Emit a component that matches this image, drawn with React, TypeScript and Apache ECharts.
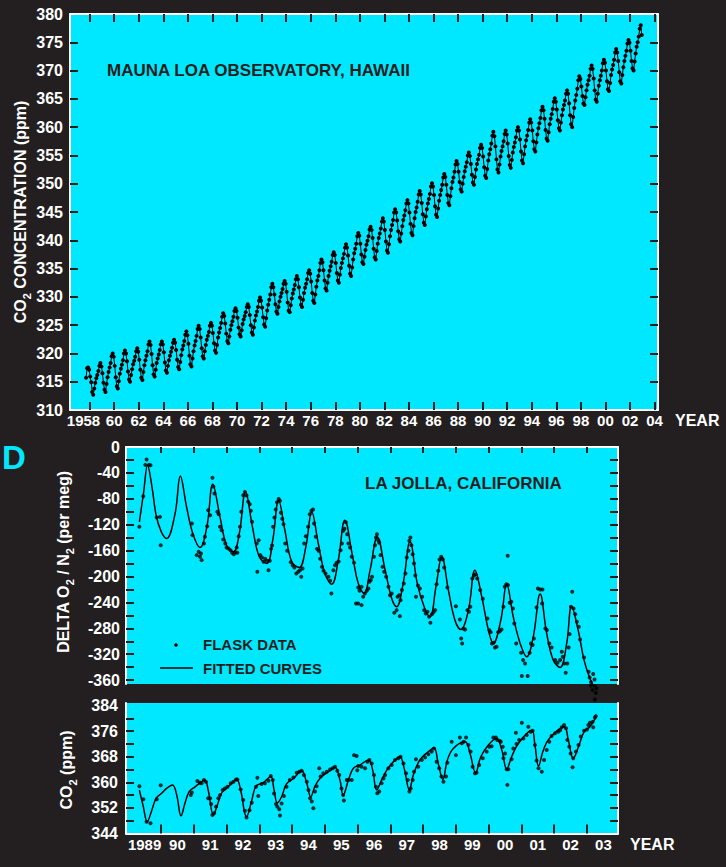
import React, { useEffect, useRef } from 'react';
import * as echarts from 'echarts';

const BG = '#231F20';
const CYAN = '#00E8FF';
const INK = '#231F20';
const FONT = '"Liberation Sans", Arial, Helvetica, sans-serif';

// ---- Mauna Loa monthly CO2 (ppm), starting March 1958 ----
const mloStartYear = 1958;
const mloStartMonth = 3;
const mloCo2 = [
  315.7, 317.4, 317.5, 317.1, 315.9, 314.9, 313.2, 312.7, 313.8, 314.8,
  315.6, 316.2, 316.9, 317.8, 318.3, 317.7, 316.5, 314.8, 313.6, 313.2, 314.6, 315.8,
  316.7, 317.5, 318.3, 319.5, 320.0, 319.4, 317.8, 315.8, 314.2, 313.8, 315.1, 316.4,
  317.3, 318.0, 318.8, 320.0, 320.5, 320.0, 318.6, 316.8, 315.4, 315.0, 316.2, 317.2,
  318.1, 318.7, 319.4, 320.4, 320.9, 320.3, 318.9, 317.1, 315.7, 315.3, 316.7, 317.9,
  318.8, 319.6, 320.4, 321.6, 322.1, 321.5, 319.9, 317.9, 316.3, 315.9, 317.1, 318.3,
  319.1, 319.8, 320.6, 321.6, 322.1, 321.6, 320.2, 318.4, 317.0, 316.6, 317.8, 318.8,
  319.6, 320.3, 321.0, 321.9, 322.4, 321.9, 320.6, 318.9, 317.6, 317.2, 318.5, 319.7,
  320.7, 321.4, 322.2, 323.3, 323.9, 323.2, 321.7, 319.6, 318.1, 317.7, 319.1, 320.4,
  321.4, 322.2, 323.1, 324.3, 324.9, 324.3, 322.8, 320.9, 319.5, 319.1, 320.4, 321.5,
  322.4, 323.1, 323.8, 324.9, 325.4, 324.9, 323.6, 321.8, 320.5, 320.1, 321.5, 322.8,
  323.7, 324.5, 325.4, 326.5, 327.1, 326.6, 325.3, 323.5, 322.2, 321.8, 323.0, 324.2,
  325.0, 325.7, 326.5, 327.5, 328.0, 327.5, 326.3, 324.6, 323.4, 323.0, 324.1, 325.2,
  326.0, 326.6, 327.3, 328.2, 328.7, 328.2, 326.8, 325.0, 323.7, 323.3, 324.6, 325.8,
  326.7, 327.4, 328.2, 329.3, 329.9, 329.3, 328.1, 326.4, 325.1, 324.7, 326.2, 327.6,
  328.6, 329.5, 330.4, 331.7, 332.3, 331.7, 330.4, 328.7, 327.4, 327.0, 328.2, 329.2,
  330.0, 330.7, 331.4, 332.3, 332.8, 332.3, 330.9, 329.0, 327.6, 327.3, 328.5, 329.7,
  330.6, 331.3, 332.1, 333.1, 333.7, 333.1, 331.7, 329.9, 328.6, 328.2, 329.5, 330.7,
  331.6, 332.3, 333.1, 334.2, 334.7, 334.1, 332.7, 330.7, 329.3, 328.9, 330.4, 331.8,
  332.9, 333.7, 334.7, 336.0, 336.6, 336.1, 334.7, 332.9, 331.5, 331.1, 332.5, 333.7,
  334.6, 335.4, 336.2, 337.4, 337.9, 337.4, 336.0, 334.2, 332.9, 332.5, 333.9, 335.1,
  336.0, 336.8, 337.6, 338.7, 339.3, 338.7, 337.3, 335.5, 334.1, 333.7, 335.2, 336.6,
  337.7, 338.5, 339.4, 340.7, 341.3, 340.8, 339.4, 337.5, 336.1, 335.8, 337.1, 338.3,
  339.2, 339.9, 340.7, 341.9, 342.4, 341.8, 340.4, 338.5, 337.0, 336.6, 338.1, 339.4,
  340.4, 341.2, 342.1, 343.3, 343.9, 343.3, 341.8, 339.8, 338.2, 337.8, 339.3, 340.7,
  341.8, 342.7, 343.6, 344.9, 345.5, 344.9, 343.5, 341.6, 340.2, 339.8, 341.2, 342.5,
  343.6, 344.4, 345.3, 346.5, 347.1, 346.5, 344.9, 342.9, 341.3, 340.9, 342.5, 343.9,
  345.0, 345.8, 346.8, 348.1, 348.7, 348.1, 346.6, 344.6, 343.1, 342.7, 344.2, 345.5,
  346.5, 347.3, 348.2, 349.5, 350.1, 349.5, 348.0, 346.0, 344.5, 344.1, 345.6, 347.0,
  348.0, 348.9, 349.8, 351.1, 351.7, 351.2, 349.8, 348.0, 346.6, 346.2, 347.8, 349.2,
  350.3, 351.1, 352.1, 353.4, 354.0, 353.5, 352.1, 350.3, 349.0, 348.6, 350.0, 351.2,
  352.2, 353.0, 353.8, 355.0, 355.5, 354.9, 353.5, 351.6, 350.2, 349.8, 351.2, 352.5,
  353.5, 354.3, 355.1, 356.3, 356.9, 356.3, 354.8, 352.9, 351.4, 351.0, 352.6, 354.1,
  355.2, 356.1, 357.1, 358.5, 359.2, 358.4, 356.6, 354.3, 352.5, 352.0, 353.4, 354.8,
  355.8, 356.6, 357.5, 358.8, 359.4, 358.7, 357.1, 354.9, 353.3, 352.8, 354.2, 355.5,
  356.5, 357.3, 358.2, 359.4, 360.0, 359.4, 357.8, 355.7, 354.1, 353.6, 355.2, 356.6,
  357.7, 358.5, 359.5, 360.8, 361.4, 360.8, 359.4, 357.5, 356.1, 355.7, 357.3, 358.7,
  359.8, 360.7, 361.6, 363.0, 363.6, 363.0, 361.5, 359.5, 358.0, 357.6, 359.1, 360.5,
  361.5, 362.3, 363.2, 364.5, 365.1, 364.5, 363.1, 361.2, 359.8, 359.4, 360.8, 362.1,
  363.1, 363.9, 364.7, 365.9, 366.5, 365.9, 364.2, 362.1, 360.5, 360.0, 361.8, 363.4,
  364.7, 365.7, 366.8, 368.3, 369.0, 368.5, 367.2, 365.5, 364.2, 363.9, 365.3, 366.5,
  367.5, 368.3, 369.1, 370.3, 370.9, 370.3, 368.6, 366.5, 364.9, 364.5, 365.9, 367.3,
  368.3, 369.1, 370.0, 371.3, 371.9, 371.4, 370.0, 368.1, 366.7, 366.4, 367.8, 369.2,
  370.2, 371.0, 371.9, 373.2, 373.8, 373.2, 371.7, 369.7, 368.1, 367.7, 369.2, 370.6,
  371.7, 372.6, 373.5, 374.8, 375.4, 374.9, 373.5, 371.7, 370.4, 370.0, 371.6, 373.0,
  374.2, 375.0, 376.0, 377.4, 378.0, 376.3,
];

const mloTickYears = [1958, 1960, 1962, 1964, 1966, 1968, 1970, 1972, 1974, 1976, 1978, 1980,
  1982, 1984, 1986, 1988, 1990, 1992, 1994, 1996, 1998, 2000, 2002, 2004];
const mloTickLabels = ['1958', '60', '62', '64', '66', '68', '70', '72', '74', '76', '78', '80',
  '82', '84', '86', '88', '90', '92', '94', '96', '98', '00', '02', '04'];
const mloYTicks = [315, 320, 325, 330, 335, 340, 345, 350, 355, 360, 365, 370, 375];
const mloYLabels = [310, 315, 320, 325, 330, 335, 340, 345, 350, 355, 360, 365, 370, 375, 380];

// ---- La Jolla O2/N2 (per meg) ----
const o2Fit = [
  [1989.34, -115.6], [1989.47, -70], [1989.59, -28.1], [1989.72, -60], [1989.85, -105], [1990.0, -130],
  [1990.17, -141.3], [1990.43, -102.7], [1990.59, -44.6], [1990.78, -92.4], [1990.97, -133.5],
  [1991.19, -155.2], [1991.4, -123.3], [1991.58, -57.4], [1991.8, -107.9], [1992.0, -151.6],
  [1992.21, -161.9], [1992.39, -133.5], [1992.58, -69.3], [1992.79, -123.3], [1993.0, -169.6],
  [1993.23, -179.8], [1993.41, -143.9], [1993.59, -82.1], [1993.78, -128.4], [1993.99, -177.4],
  [1994.22, -186], [1994.42, -154.2], [1994.6, -100.2], [1994.8, -149], [1995.0, -195.3],
  [1995.21, -211.8], [1995.41, -174.7], [1995.61, -113], [1995.85, -169.6], [1996.02, -210.7],
  [1996.2, -226], [1996.38, -190.2], [1996.6, -138.8], [1996.84, -190], [1997.04, -233.9],
  [1997.19, -246.8], [1997.39, -210.7], [1997.6, -146.5], [1997.82, -210.7], [1998.03, -246.8],
  [1998.21, -262.3], [1998.39, -216], [1998.57, -169.6], [1998.77, -221], [1998.97, -267.4],
  [1999.15, -281.7], [1999.38, -252], [1999.58, -190.2], [1999.79, -231.4], [1999.99, -282.8],
  [2000.14, -303.3], [2000.37, -267.4], [2000.55, -211.8], [2000.75, -262.3], [2000.96, -303.3],
  [2001.16, -324], [2001.36, -293.1], [2001.57, -227.2], [2001.77, -287.9], [2001.97, -329.1],
  [2002.18, -340.4], [2002.38, -303.3], [2002.53, -245.8], [2002.73, -282.8], [2002.91, -329.1],
  [2003.09, -357.4], [2003.24, -372.8],
];
const o2Flask = [
  [1989.34, -123.3], [1989.46, -76.0], [1989.56, -19.3], [1989.52, -27.6], [1989.63, -27.6], [1989.68, -28.1], [1989.87, -109.0], [1989.97, -107.9], [1989.99, -151.6],
  [1990.94, -118.2], [1990.96, -136.1], [1991.09, -167.0], [1991.15, -161.9], [1991.19, -169.6], [1991.24, -174.7], [1991.22, -164.5], [1991.31, -149.0], [1991.34, -138.7], [1991.41, -122.3], [1991.44, -97.6], [1991.50, -105.3], [1991.57, -47.6], [1991.60, -61.5], [1991.63, -71.8], [1991.72, -100.1], [1991.76, -103.7], [1991.80, -123.3], [1991.85, -128.4], [1991.90, -142.9], [1991.96, -149.0],
  [1992.00, -155.2], [1992.06, -156.8], [1992.12, -159.3], [1992.17, -163.4], [1992.22, -165.5], [1992.27, -162.4], [1992.31, -155.2], [1992.33, -163.4], [1992.37, -137.7], [1992.41, -123.3], [1992.45, -100.1], [1992.51, -74.4], [1992.56, -69.3], [1992.61, -74.9], [1992.66, -84.7], [1992.71, -88.3], [1992.74, -98.6], [1992.78, -115.6], [1992.92, -149.0], [1992.94, -192.8], [1992.98, -143.9],
  [1993.03, -167.0], [1993.08, -170.6], [1993.13, -177.3], [1993.18, -172.7], [1993.23, -175.8], [1993.28, -190.2], [1993.32, -175.8], [1993.36, -157.3], [1993.39, -152.1], [1993.42, -123.3], [1993.46, -108.9], [1993.50, -96.5], [1993.54, -85.2], [1993.59, -80.1], [1993.63, -83.1], [1993.66, -101.7], [1993.70, -110.9], [1993.74, -119.2], [1993.79, -149.0], [1993.85, -160.3], [1993.96, -177.8],
  [1994.02, -182.5], [1994.07, -186.1], [1994.13, -195.3], [1994.19, -192.8], [1994.24, -190.2], [1994.28, -200.5], [1994.32, -187.6], [1994.37, -149.0], [1994.42, -137.7], [1994.49, -123.3], [1994.54, -103.7], [1994.59, -98.6], [1994.64, -96.5], [1994.67, -118.2], [1994.72, -138.7], [1994.76, -157.3], [1994.81, -160.3], [1994.86, -172.7], [1994.91, -185.1], [1994.96, -191.2],
  [1995.02, -195.3], [1995.11, -200.5], [1995.16, -206.6], [1995.20, -226.2], [1995.26, -190.2], [1995.31, -182.5], [1995.36, -178.9], [1995.42, -176.8], [1995.48, -159.3], [1995.52, -149.0], [1995.56, -129.5], [1995.60, -126.4], [1995.64, -116.1], [1995.68, -134.6], [1995.72, -149.0], [1995.77, -155.2], [1995.82, -169.6], [1995.89, -178.9], [1995.95, -241.6],
  [1996.02, -241.6], [1996.02, -216.9], [1996.06, -222.1], [1996.12, -215.9], [1996.12, -244.2], [1996.17, -231.3], [1996.22, -226.2], [1996.28, -222.1], [1996.33, -218.5], [1996.36, -208.2], [1996.40, -205.6], [1996.44, -200.5], [1996.50, -169.6], [1996.53, -151.6], [1996.56, -139.8], [1996.59, -134.6], [1996.63, -143.9], [1996.66, -148.0], [1996.70, -167.0], [1996.76, -185.1], [1996.81, -192.8], [1996.87, -200.5], [1996.94, -215.9], [1996.99, -228.8],
  [1997.04, -226.2], [1997.12, -256.1], [1997.19, -251.9], [1997.22, -231.3], [1997.27, -228.8], [1997.31, -236.5], [1997.29, -261.2], [1997.35, -221.0], [1997.41, -210.8], [1997.46, -195.3], [1997.50, -170.6], [1997.55, -160.3], [1997.58, -144.9], [1997.61, -139.8], [1997.64, -151.6], [1997.68, -165.5], [1997.72, -179.9], [1997.76, -198.4], [1997.78, -231.3], [1997.84, -213.9], [1997.90, -218.5], [1997.97, -231.3],
  [1998.03, -251.9], [1998.08, -257.0], [1998.13, -254.5], [1998.18, -262.2], [1998.22, -271.5], [1998.27, -258.1], [1998.32, -255.0], [1998.37, -251.9], [1998.41, -211.8], [1998.46, -191.2], [1998.50, -173.7], [1998.55, -169.6], [1998.60, -173.7], [1998.64, -186.1], [1998.74, -216.9],
  [1999.00, -245.8], [1999.12, -266.3], [1999.16, -295.7], [1999.19, -303.4], [1999.23, -280.8], [1999.28, -281.8], [1999.35, -251.9], [1999.40, -254.5], [1999.44, -246.8], [1999.50, -203.1], [1999.55, -198.4], [1999.60, -196.4], [1999.65, -203.1], [1999.74, -221.0], [1999.82, -234.4], [1999.96, -264.8],
  [2000.02, -282.8], [2000.06, -285.9], [2000.10, -303.4], [2000.15, -302.3], [2000.19, -309.6], [2000.24, -308.5], [2000.29, -285.9], [2000.34, -284.4], [2000.39, -281.8], [2000.45, -246.8], [2000.49, -215.9], [2000.54, -211.8], [2000.59, -213.3], [2000.58, -168.1], [2000.64, -240.6], [2000.69, -239.1], [2000.74, -249.4], [2000.78, -272.5], [2000.84, -303.4], [2000.99, -317.8],
  [2001.05, -329.1], [2001.11, -334.3], [2001.01, -353.8], [2001.19, -353.8], [2001.25, -317.8], [2001.29, -303.4], [2001.34, -305.9], [2001.38, -295.7], [2001.46, -247.8], [2001.50, -218.5], [2001.57, -220.0], [2001.64, -220.0], [2001.63, -241.6], [2001.73, -280.2], [2001.78, -282.8], [2001.85, -303.4], [2001.92, -309.6],
  [2002.03, -329.1], [2002.10, -333.2], [2002.18, -329.1], [2002.23, -316.3], [2002.26, -324.0], [2002.31, -334.3], [2002.35, -348.7], [2002.40, -334.3], [2002.44, -309.6], [2002.47, -289.0], [2002.51, -246.8], [2002.55, -223.6], [2002.59, -249.4], [2002.64, -258.1], [2002.69, -269.9], [2002.75, -277.7], [2002.79, -297.2], [2002.91, -325.0],
  [2003.05, -347.1], [2003.08, -355.9], [2003.12, -363.1], [2003.19, -350.7], [2003.23, -358.9], [2003.24, -369.2], [2003.29, -372.8], [2003.17, -375.4], [2003.27, -380.0], [2003.24, -389.8], [2003.12, -368.5],
];

// ---- La Jolla CO2 (ppm) ----
const ljCo2Fit = [
  [1989.34, 357.6], [1989.46, 352.4], [1989.58, 347.7], [1989.72, 351.3], [1989.85, 355.0], [1990.02, 356.6],
  [1990.17, 358.1], [1990.35, 359.2], [1990.48, 356.0], [1990.61, 349.5], [1990.73, 353.4], [1990.86, 357.1],
  [1991.04, 358.6], [1991.24, 360.2], [1991.34, 360.7], [1991.44, 357.6], [1991.60, 349.8], [1991.72, 352.9],
  [1991.85, 356.6], [1992.05, 358.6], [1992.21, 360.2], [1992.31, 361.0], [1992.43, 357.6], [1992.61, 349.2],
  [1992.77, 354.4], [1992.90, 358.8], [1993.12, 359.9], [1993.35, 361.8], [1993.45, 357.6], [1993.55, 353.6],
  [1993.68, 355.5], [1993.83, 359.5], [1994.04, 361.2], [1994.29, 363.6], [1994.45, 359.6], [1994.57, 355.5],
  [1994.70, 358.8], [1994.85, 361.2], [1995.11, 363.3], [1995.31, 364.7], [1995.46, 360.7], [1995.56, 356.0],
  [1995.72, 360.7], [1995.87, 364.4], [1996.07, 365.4], [1996.33, 367.0], [1996.46, 363.8], [1996.58, 357.6],
  [1996.73, 360.7], [1996.89, 363.8], [1997.09, 366.4], [1997.29, 368.0], [1997.42, 364.4], [1997.58, 357.6],
  [1997.70, 362.3], [1997.90, 367.0], [1998.16, 369.6], [1998.33, 370.8], [1998.46, 365.9], [1998.60, 360.9],
  [1998.74, 367.0], [1998.92, 370.6], [1999.28, 372.7], [1999.43, 369.0], [1999.60, 363.0], [1999.76, 368.0],
  [1999.99, 371.7], [2000.24, 373.7], [2000.40, 370.1], [2000.55, 364.1], [2000.70, 368.0], [2000.91, 372.2],
  [2001.31, 376.3], [2001.41, 371.7], [2001.52, 365.1], [2001.67, 370.1], [2001.85, 373.7], [2002.30, 377.4],
  [2002.43, 373.2], [2002.58, 367.5], [2002.74, 371.1], [2002.91, 375.8], [2003.09, 377.4], [2003.27, 380.3],
];
const ljCo2Flask = [
  [1989.34, 358.8], [1989.46, 354.7], [1989.56, 347.7], [1989.68, 347.2], [1989.87, 354.7], [1989.99, 359.1],
  [1990.91, 356.0], [1990.94, 356.8], [1991.11, 360.4], [1991.19, 359.9], [1991.24, 359.7], [1991.31, 360.7], [1991.37, 360.2], [1991.44, 355.0], [1991.50, 355.0], [1991.53, 353.2], [1991.57, 349.8], [1991.62, 350.3], [1991.68, 352.4], [1991.75, 355.0], [1991.80, 356.0], [1991.88, 357.6], [1991.95, 358.1],
  [1992.03, 358.6], [1992.13, 359.7], [1992.21, 360.2], [1992.29, 360.9], [1992.33, 360.9], [1992.43, 357.8], [1992.51, 354.5], [1992.56, 351.1], [1992.61, 349.0], [1992.70, 351.3], [1992.77, 353.6], [1992.90, 358.6], [1992.94, 361.4], [1992.97, 355.7],
  [1993.07, 359.5], [1993.17, 359.7], [1993.28, 360.5], [1993.35, 362.0], [1993.41, 360.7], [1993.45, 356.5], [1993.51, 353.2], [1993.55, 352.4], [1993.61, 351.6], [1993.63, 349.6], [1993.68, 353.4], [1993.75, 355.7], [1993.83, 358.6], [1993.93, 360.7],
  [1994.04, 361.5], [1994.14, 363.0], [1994.22, 363.3], [1994.29, 363.6], [1994.36, 362.3], [1994.45, 360.2], [1994.50, 357.6], [1994.55, 355.0], [1994.60, 354.0], [1994.65, 351.9], [1994.70, 357.1], [1994.75, 358.8], [1994.83, 364.4], [1994.87, 361.8], [1994.95, 362.8],
  [1995.06, 363.3], [1995.16, 364.0], [1995.24, 364.4], [1995.31, 364.9], [1995.38, 363.6], [1995.44, 362.3], [1995.51, 358.1], [1995.56, 356.0], [1995.58, 354.3], [1995.67, 360.7], [1995.72, 360.7], [1995.82, 360.7], [1995.89, 368.5], [1995.97, 368.2], [1995.99, 363.8],
  [1996.02, 365.1], [1996.12, 364.9], [1996.23, 364.4], [1996.30, 366.4], [1996.36, 367.0], [1996.43, 365.9], [1996.50, 362.3], [1996.56, 358.6], [1996.60, 356.6], [1996.66, 357.1], [1996.73, 359.7], [1996.79, 361.2], [1996.84, 362.3], [1996.94, 364.4],
  [1997.04, 365.4], [1997.14, 367.0], [1997.24, 367.5], [1997.31, 368.0], [1997.40, 365.9], [1997.48, 362.8], [1997.53, 360.7], [1997.58, 357.1], [1997.62, 358.1], [1997.68, 360.7], [1997.72, 363.3], [1997.78, 367.2], [1997.85, 364.9], [1997.96, 367.0],
  [1998.06, 367.8], [1998.16, 368.8], [1998.26, 369.6], [1998.33, 370.6], [1998.41, 366.4], [1998.49, 364.4], [1998.56, 361.8], [1998.62, 360.2], [1998.70, 361.8], [1998.74, 366.1], [1998.87, 372.7],
  [1999.00, 368.5], [1999.12, 374.0], [1999.18, 372.2], [1999.24, 372.7], [1999.31, 374.0], [1999.38, 371.7], [1999.45, 369.6], [1999.51, 364.9], [1999.58, 362.8], [1999.63, 363.0], [1999.71, 365.4], [1999.82, 367.5], [1999.94, 369.6],
  [2000.02, 371.1], [2000.09, 371.3], [2000.14, 374.0], [2000.22, 374.0], [2000.26, 373.2], [2000.33, 373.0], [2000.37, 372.7], [2000.43, 371.1], [2000.45, 367.5], [2000.50, 369.0], [2000.55, 364.1], [2000.57, 359.2], [2000.60, 364.1], [2000.70, 367.2], [2000.75, 370.6], [2000.83, 375.5], [2000.85, 372.0], [2000.93, 373.2],
  [2001.01, 378.6], [2001.06, 373.7], [2001.16, 374.8], [2001.21, 377.4], [2001.28, 375.8], [2001.34, 376.1], [2001.41, 371.7], [2001.46, 366.8], [2001.52, 364.4], [2001.62, 363.3], [2001.69, 367.0], [2001.77, 370.1], [2001.85, 372.7], [2001.92, 374.5],
  [2002.02, 375.3], [2002.12, 375.8], [2002.18, 376.3], [2002.23, 377.2], [2002.30, 377.9], [2002.36, 376.9], [2002.40, 373.2], [2002.46, 371.1], [2002.50, 369.0], [2002.56, 364.7], [2002.58, 367.5], [2002.66, 369.6], [2002.74, 371.7], [2002.81, 374.3], [2002.91, 376.1],
  [2003.00, 376.5], [2003.04, 377.9], [2003.09, 378.6], [2003.17, 378.9], [2003.19, 377.2], [2003.24, 380.3], [2003.27, 380.7],
];

const ljTickYears = [1990, 1991, 1992, 1993, 1994, 1995, 1996, 1997, 1998, 1999, 2000, 2001, 2002, 2003];
const ljLabelYears = [1989, 1990, 1991, 1992, 1993, 1994, 1995, 1996, 1997, 1998, 1999, 2000, 2001, 2002, 2003];
const ljLabels = ['1989', '90', '91', '92', '93', '94', '95', '96', '97', '98', '99', '00', '01', '02', '03'];
const o2YTicks = [-20, -40, -60, -80, -100, -120, -140, -160, -180, -200, -220, -240, -260, -280, -300, -320, -340, -360];
const o2YLabels = [0, -40, -80, -120, -160, -200, -240, -280, -320, -360];
const ljCo2YTicks = [348, 352, 356, 360, 364, 368, 372, 376, 380];
const ljCo2YLabels = [344, 352, 360, 368, 376, 384];

const lbl = (size: number) => ({ color: '#FFFFFF', fontWeight: 'bold', fontSize: size, fontFamily: FONT });
const whiteLine = { show: true, onZero: false, lineStyle: { color: '#FFFFFF', width: 2 } };
const noLine = { show: false, onZero: false };
const tick = (vals: number[], len: number) => ({
  show: true, inside: true, length: len, customValues: vals, lineStyle: { color: INK, width: 2 },
});

export default function App() {
  const ref = useRef<HTMLDivElement>(null);
  useEffect(() => {
    if (!ref.current) return;
    const chart = echarts.init(ref.current, null, { renderer: 'svg' });

    const mloData = mloCo2.map((v, i) => [mloStartYear + (mloStartMonth - 1 + i + 0.5) / 12, v]);
    const mloTickPos = mloTickYears.map((y) => y + 0.5);
    // the first label ("1958") sits left of its tick, as in the original figure
    const mloLabelPos = mloTickYears.map((y, i) => (i === 0 ? y : y + 0.5));
    const ljLabelPos = ljLabelYears.map((y) => y + 0.5);

    const X0 = [1956.9, 2004.78];
    const X1 = [1988.932, 2003.946];

    const gridBase = { show: true, backgroundColor: CYAN, borderWidth: 0, outerBoundsMode: 'none' } as any;

    const subRich = {
      s: { fontSize: 11, fontWeight: 'bold', fontFamily: FONT, fill: '#FFFFFF', lineHeight: 11, verticalAlign: 'bottom' },
    };
    const rotName = (x: number, y: number, text: string) => ({
      type: 'text', x, y, rotation: Math.PI / 2, silent: true,
      style: {
        text, rich: subRich, fill: '#FFFFFF', fontSize: 16, fontWeight: 'bold', fontFamily: FONT,
        lineHeight: 24, align: 'center', verticalAlign: 'middle',
      },
    });
    const plainText = (x: number, y: number, text: string, size: number, fill: string) => ({
      type: 'text', x, y, silent: true,
      style: { text, fill, fontSize: size, fontWeight: 'bold', fontFamily: FONT, align: 'left', verticalAlign: 'middle' },
    });

    const option: any = {
      animation: false,
      backgroundColor: BG,
      grid: [
        { ...gridBase, left: 70, top: 14, width: 588, height: 396 },
        { ...gridBase, left: 126, top: 447, width: 492, height: 237 },
        { ...gridBase, left: 126, top: 703, width: 492, height: 130.5 },
      ],
      xAxis: [
        {
          gridIndex: 0, type: 'value', position: 'bottom', min: X0[0], max: X0[1],
          axisLine: whiteLine, axisTick: tick(mloTickPos, 8), splitLine: { show: false },
          axisLabel: {
            ...lbl(15), margin: 3, customValues: mloLabelPos, hideOverlap: false,
            showMinLabel: true, showMaxLabel: true,
            formatter: (v: number) => {
              const i = mloLabelPos.findIndex((p) => Math.abs(p - v) < 0.01);
              return i >= 0 ? mloTickLabels[i] : '';
            },
          },
        },
        {
          gridIndex: 0, type: 'value', position: 'top', min: X0[0], max: X0[1],
          axisLine: whiteLine, axisTick: tick(mloTickPos, 8), axisLabel: { show: false }, splitLine: { show: false },
        },
        {
          gridIndex: 1, type: 'value', position: 'bottom', min: X1[0], max: X1[1],
          axisLine: noLine, axisTick: { show: false }, axisLabel: { show: false }, splitLine: { show: false },
        },
        {
          gridIndex: 1, type: 'value', position: 'top', min: X1[0], max: X1[1],
          axisLine: whiteLine, axisTick: tick(ljTickYears, 6), axisLabel: { show: false }, splitLine: { show: false },
        },
        {
          gridIndex: 2, type: 'value', position: 'bottom', min: X1[0], max: X1[1],
          axisLine: whiteLine, axisTick: tick(ljTickYears, 9), splitLine: { show: false },
          axisLabel: {
            ...lbl(15), margin: 3, customValues: ljLabelPos, hideOverlap: false,
            formatter: (v: number) => {
              const i = ljLabelYears.indexOf(Math.round(v - 0.5));
              return i >= 0 ? ljLabels[i] : '';
            },
          },
        },
        {
          gridIndex: 2, type: 'value', position: 'top', min: X1[0], max: X1[1],
          axisLine: noLine, axisTick: { show: false }, axisLabel: { show: false }, splitLine: { show: false },
        },
      ],
      yAxis: [
        {
          gridIndex: 0, type: 'value', position: 'left', min: 310, max: 380,
          axisLine: whiteLine, axisTick: tick(mloYTicks, 8), splitLine: { show: false },
          axisLabel: { ...lbl(16), margin: 7, customValues: mloYLabels },
        },
        {
          gridIndex: 0, type: 'value', position: 'right', min: 310, max: 380,
          axisLine: whiteLine, axisTick: tick(mloYTicks, 8), splitLine: { show: false }, axisLabel: { show: false },
        },
        {
          gridIndex: 1, type: 'value', position: 'left', min: -366, max: 0,
          axisLine: whiteLine, axisTick: tick(o2YTicks, 8), splitLine: { show: false },
          axisLabel: { ...lbl(16), margin: 6, customValues: o2YLabels },
        },
        {
          gridIndex: 1, type: 'value', position: 'right', min: -366, max: 0,
          axisLine: whiteLine, axisTick: tick(o2YTicks, 8), splitLine: { show: false }, axisLabel: { show: false },
        },
        {
          gridIndex: 2, type: 'value', position: 'left', min: 344, max: 384.8,
          axisLine: whiteLine, axisTick: tick(ljCo2YTicks, 8), splitLine: { show: false },
          axisLabel: { ...lbl(16), margin: 8, customValues: ljCo2YLabels },
        },
        {
          gridIndex: 2, type: 'value', position: 'right', min: 344, max: 384.8,
          axisLine: whiteLine, axisTick: tick(ljCo2YTicks, 8), splitLine: { show: false }, axisLabel: { show: false },
        },
      ],
      series: [
        {
          type: 'line', xAxisIndex: 0, yAxisIndex: 0, data: mloData,
          symbol: 'circle', symbolSize: 4, showSymbol: true,
          lineStyle: { color: '#000', width: 1 }, itemStyle: { color: '#000' },
        },
        {
          type: 'line', xAxisIndex: 2, yAxisIndex: 2, data: o2Fit, smooth: 0.4,
          symbol: 'none', lineStyle: { color: '#000', width: 1.5 },
        },
        {
          type: 'scatter', xAxisIndex: 2, yAxisIndex: 2, data: o2Flask, clip: false,
          symbol: 'circle', symbolSize: 4, itemStyle: { color: '#000' },
        },
        {
          type: 'line', xAxisIndex: 4, yAxisIndex: 4, data: ljCo2Fit, smooth: 0.4,
          symbol: 'none', lineStyle: { color: '#000', width: 1.5 },
        },
        {
          type: 'scatter', xAxisIndex: 4, yAxisIndex: 4, data: ljCo2Flask, clip: false,
          symbol: 'circle', symbolSize: 4, itemStyle: { color: '#000' },
        },
      ],
      graphic: [
        plainText(107, 70, 'MAUNA LOA OBSERVATORY, HAWAII', 17, INK),
        plainText(365, 483, 'LA JOLLA, CALIFORNIA', 17, INK),
        plainText(2, 457, 'D', 33, CYAN),
        plainText(675, 420, 'YEAR', 16, '#FFFFFF'),
        plainText(630, 844, 'YEAR', 16, '#FFFFFF'),
        rotName(20, 212, 'CO{s|2} CONCENTRATION (ppm)'),
        rotName(63, 562, 'DELTA O{s|2} / N{s|2} (per meg)'),
        rotName(66, 770, 'CO{s|2} (ppm)'),
        { type: 'circle', shape: { cx: 176, cy: 645, r: 1.8 }, style: { fill: '#000' }, silent: true },
        { type: 'line', shape: { x1: 160, y1: 668, x2: 193, y2: 668 }, style: { stroke: '#000', lineWidth: 1.5 }, silent: true },
        plainText(203, 644, 'FLASK DATA', 15, INK),
        plainText(203, 668, 'FITTED CURVES', 15, INK),
      ],
    };
    chart.setOption(option);
    return () => chart.dispose();
  }, []);
  return (
    <div
      ref={ref}
      style={{ position: 'fixed', left: 0, top: 0, width: 726, height: 867, background: BG }}
    />
  );
}
